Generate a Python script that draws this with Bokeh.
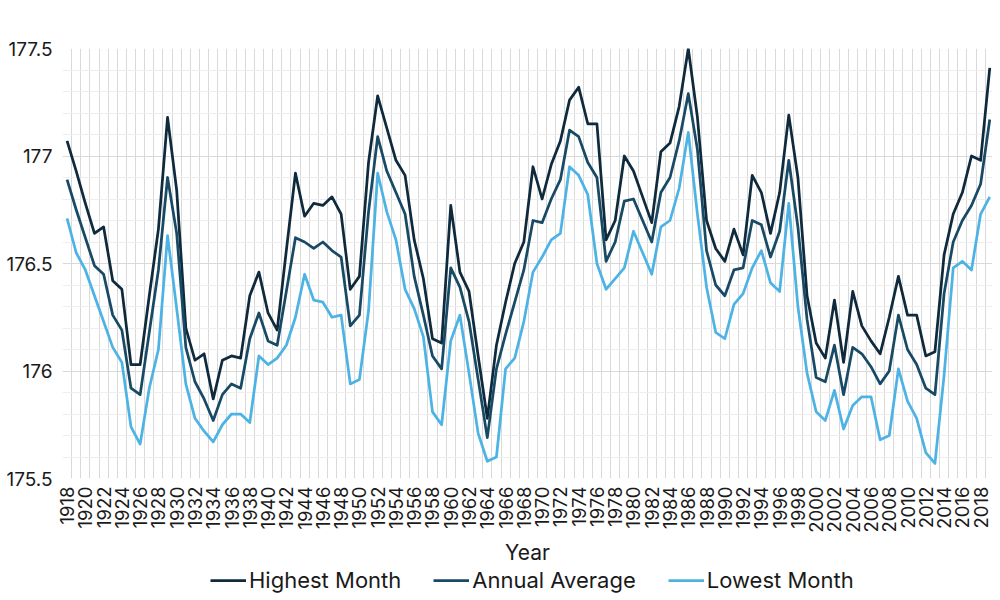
import math
from bokeh.plotting import figure
from bokeh.layouts import column
from bokeh.models import Range1d, FixedTicker, Legend, LegendItem
from bokeh.embed import file_html
from bokeh.resources import INLINE

years = list(range(1918, 2020))

highest = [
    177.07, 176.93, 176.78, 176.64, 176.67, 176.42, 176.38, 176.03, 176.03, 176.35,  # 1918-1927
    176.66, 177.18, 176.84, 176.20, 176.05, 176.08, 175.87, 176.05, 176.07, 176.06,  # 1928-1937
    176.35, 176.46, 176.27, 176.19, 176.56, 176.92, 176.72, 176.78, 176.77, 176.81,  # 1938-1947
    176.73, 176.38, 176.44, 176.97, 177.28, 177.13, 176.98, 176.91, 176.61, 176.43,  # 1948-1957
    176.15, 176.13, 176.77, 176.46, 176.37, 176.07, 175.78, 176.12, 176.32, 176.50,  # 1958-1967
    176.60, 176.95, 176.80, 176.96, 177.07, 177.26, 177.32, 177.15, 177.15, 176.61,  # 1968-1977
    176.70, 177.00, 176.93, 176.81, 176.69, 177.02, 177.06, 177.23, 177.50, 177.18,  # 1978-1987
    176.70, 176.57, 176.51, 176.66, 176.54, 176.91, 176.83, 176.64, 176.83, 177.19,  # 1988-1997
    176.90, 176.35, 176.13, 176.06, 176.33, 176.04, 176.37, 176.21, 176.14, 176.08,  # 1998-2007
    176.25, 176.44, 176.26, 176.26, 176.07, 176.09, 176.54, 176.73, 176.83, 177.00,  # 2008-2017
    176.98, 177.41,                                                                  # 2018-2019
]

average = [
    176.89, 176.75, 176.62, 176.49, 176.45, 176.26, 176.19, 175.92, 175.89, 176.18,
    176.47, 176.90, 176.64, 176.11, 175.95, 175.87, 175.77, 175.89, 175.94, 175.92,
    176.15, 176.27, 176.14, 176.12, 176.37, 176.62, 176.60, 176.57, 176.60, 176.56,
    176.53, 176.21, 176.26, 176.74, 177.09, 176.93, 176.83, 176.73, 176.44, 176.26,
    176.07, 176.01, 176.48, 176.39, 176.23, 175.96, 175.69, 176.01, 176.17, 176.32,
    176.47, 176.70, 176.69, 176.80, 176.89, 177.12, 177.09, 176.97, 176.90, 176.51,
    176.60, 176.79, 176.80, 176.70, 176.60, 176.83, 176.90, 177.07, 177.29, 177.03,
    176.56, 176.40, 176.35, 176.47, 176.48, 176.70, 176.68, 176.53, 176.65, 176.98,
    176.67, 176.24, 175.97, 175.95, 176.12, 175.89, 176.11, 176.08, 176.02, 175.94,
    176.00, 176.26, 176.10, 176.03, 175.92, 175.89, 176.36, 176.60, 176.70, 176.77,
    176.87, 177.17,
]

lowest = [
    176.71, 176.55, 176.47, 176.35, 176.23, 176.11, 176.04, 175.74, 175.66, 175.92,
    176.10, 176.63, 176.29, 175.94, 175.78, 175.72, 175.67, 175.75, 175.80, 175.80,
    175.76, 176.07, 176.03, 176.06, 176.12, 176.25, 176.45, 176.33, 176.32, 176.25,
    176.26, 175.94, 175.96, 176.28, 176.92, 176.74, 176.61, 176.38, 176.29, 176.16,
    175.81, 175.75, 176.14, 176.26, 175.99, 175.71, 175.58, 175.60, 176.01, 176.06,
    176.23, 176.46, 176.53, 176.61, 176.64, 176.95, 176.91, 176.82, 176.50, 176.38,
    176.43, 176.48, 176.65, 176.55, 176.45, 176.67, 176.70, 176.85, 177.11, 176.73,
    176.39, 176.18, 176.15, 176.31, 176.36, 176.48, 176.56, 176.41, 176.37, 176.78,
    176.30, 175.99, 175.81, 175.77, 175.91, 175.73, 175.84, 175.88, 175.88, 175.68,
    175.70, 176.01, 175.86, 175.78, 175.62, 175.57, 175.98, 176.48, 176.51, 176.47,
    176.73, 176.81,
]

series_names = ["Highest Month", "Annual Average", "Lowest Month"]
series_colors = ["#0E2A3C", "#184A66", "#4DB3E5"]
series_values = [highest, average, lowest]

y_ticks = [175.5, 176.0, 176.5, 177.0, 177.5]
y_tick_labels = ["175.5", "176", "176.5", "177", "177.5"]
x_label_years = list(range(1918, 2019, 2))

FONT = "Inter"
TEXT = "#1a1a1a"

p = figure(width=992, height=568, output_backend="svg", toolbar_location=None,
           x_range=Range1d(1917.5, 2019.3), y_range=Range1d(175.5, 177.5),
           min_border_left=62, min_border_right=0, min_border_top=48,
           min_border_bottom=86)
p.outline_line_color = None
p.background_fill_color = "white"
p.border_fill_color = "white"

# grids
p.xgrid.ticker = FixedTicker(ticks=[y - 0.5 for y in years] + [years[-1] + 0.5])
p.xgrid.grid_line_color = "#d9d9d9"
p.xgrid.grid_line_width = 1
p.ygrid.ticker = FixedTicker(ticks=y_ticks,
                             minor_ticks=[round(175.5 + 0.1 * i, 1) for i in range(21)])
p.ygrid.grid_line_color = "#d9d9d9"
p.ygrid.grid_line_width = 1.2
p.ygrid.minor_grid_line_color = "#eeeeee"
p.ygrid.minor_grid_line_width = 1

# axes
p.yaxis.ticker = FixedTicker(ticks=y_ticks)
p.yaxis.major_label_overrides = {t: s for t, s in zip(y_ticks, y_tick_labels)}
p.yaxis.axis_line_color = None
p.yaxis.major_tick_line_color = None
p.yaxis.minor_tick_line_color = None
p.yaxis.major_tick_out = 0
p.yaxis.major_tick_in = 0
p.yaxis.major_label_standoff = 10
p.yaxis.major_label_text_font = FONT
p.yaxis.major_label_text_font_size = "19px"
p.yaxis.major_label_text_color = TEXT

p.xaxis.ticker = FixedTicker(ticks=x_label_years)
p.xaxis.major_label_orientation = math.pi / 2
p.xaxis.axis_line_color = None
p.xaxis.major_tick_line_color = None
p.xaxis.minor_tick_line_color = None
p.xaxis.major_tick_out = 0
p.xaxis.major_tick_in = 0
p.xaxis.major_label_standoff = 8
p.xaxis.major_label_text_font = FONT
p.xaxis.major_label_text_font_size = "18.5px"
p.xaxis.major_label_text_color = TEXT
p.xaxis.axis_label = "Year"
p.xaxis.axis_label_text_font = FONT
p.xaxis.axis_label_text_font_size = "21px"
p.xaxis.axis_label_text_font_style = "normal"
p.xaxis.axis_label_text_color = TEXT
p.xaxis.axis_label_standoff = 4

for vals, col in zip(series_values, series_colors):
    p.line(years, vals, line_color=col, line_width=2.75, line_join="round")

# legend strip below the chart (series drawn out of view; only their legend swatches show)
lg = figure(width=992, height=26, output_backend="svg", toolbar_location=None,
            x_range=Range1d(0, 1), y_range=Range1d(0, 1),
            min_border_left=0, min_border_right=0, min_border_top=0, min_border_bottom=0)
lg.axis.visible = False
lg.grid.visible = False
lg.outline_line_color = None
lg.border_fill_color = "white"
items = []
for name, vals, col in zip(series_names, series_values, series_colors):
    r = lg.line(years, vals, line_color=col, line_width=2.75)
    items.append(LegendItem(label=name, renderers=[r]))
legend = Legend(items=items, orientation="horizontal", location=(148, 1),
                border_line_color=None, background_fill_alpha=0,
                label_text_font=FONT, label_text_font_size="22px", label_text_color=TEXT,
                glyph_width=36, glyph_height=24, label_standoff=3, spacing=32,
                padding=0, margin=0, label_height=24)
lg.add_layout(legend)

open("out.html", "w").write(file_html(column(p, lg, spacing=0), INLINE))
